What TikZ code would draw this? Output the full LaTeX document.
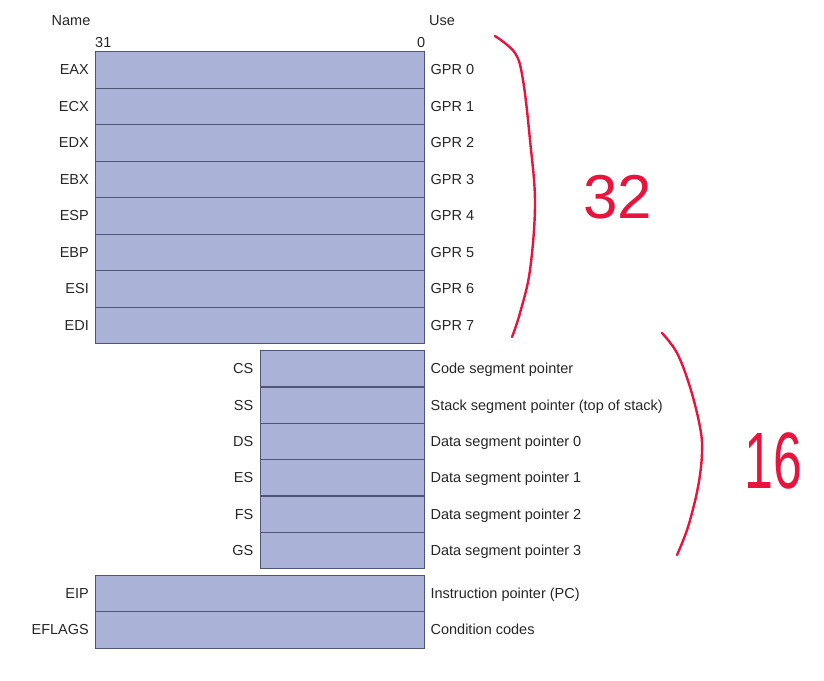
\documentclass[tikz,border=0pt]{standalone}
\usepackage{graphicx}
\usepackage{fontspec}
\setmainfont{Liberation Sans}
\definecolor{regfill}{HTML}{ABB2D7}
\definecolor{regline}{HTML}{4F5577}
\definecolor{txt}{HTML}{262626}
\definecolor{redink}{HTML}{E8143E}
\begin{document}
\begin{tikzpicture}[x=1pt,y=-1pt,
  reg/.style={draw=regline, fill=regfill, line width=1.4pt, inner sep=0pt, anchor=north west},
  widereg/.style={reg, minimum width=329pt, minimum height=36.5pt},
  segreg/.style={reg, minimum width=164.5pt, minimum height=36.3pt},
  lbl/.style={font=\fontsize{14.5}{16}\selectfont, text=txt, inner sep=0pt, text height=10pt, text depth=0pt},
  ink/.style={draw=redink, line width=2.4pt, line cap=round, line join=round},
  handtext/.style={text=redink, inner sep=0pt}
]
\useasboundingbox (0,0) rectangle (824,680);

% general purpose registers
\foreach \n/\u [count=\i from 0] in {EAX/GPR 0, ECX/GPR 1, EDX/GPR 2, EBX/GPR 3, ESP/GPR 4, EBP/GPR 5, ESI/GPR 6, EDI/GPR 7}{
  \node[widereg] (r\i) at (95,{51+\i*36.5}) {};
  \node[lbl, anchor=east] (rn\i) at ([xshift=-6pt]r\i.west) {\n};
  \node[lbl, anchor=west] (ru\i) at ([xshift=5pt]r\i.east) {\u};
}

% segment registers
\foreach \n/\u [count=\i from 0] in {CS/Code segment pointer, SS/Stack segment pointer (top of stack), DS/Data segment pointer 0, ES/Data segment pointer 1, FS/Data segment pointer 2, GS/Data segment pointer 3}{
  \node[segreg] (s\i) at (259.5,{350+\i*36.3}) {};
  \node[lbl, anchor=east] (sn\i) at ([xshift=-6pt]s\i.west) {\n};
  \node[lbl, anchor=west] (su\i) at ([xshift=5pt]s\i.east) {\u};
}

% EIP / EFLAGS
\node[widereg] (eip) at (95,574.5) {};
\node[lbl, anchor=east] (eipn) at ([xshift=-6pt]eip.west) {EIP};
\node[lbl, anchor=west] (eipu) at ([xshift=5pt]eip.east) {Instruction pointer (PC)};
\node[widereg] (efl) at (95,611) {};
\node[lbl, anchor=east] (efln) at ([xshift=-6pt]efl.west) {EFLAGS};
\node[lbl, anchor=west] (eflu) at ([xshift=5pt]efl.east) {Condition codes};

% headers
\node[lbl, anchor=west] (hname) at (51.5,20) {Name};
\node[lbl, anchor=west] (huse) at (429,20) {Use};
\node[lbl, anchor=west] (h31) at ([yshift=9pt]r0.north west) {31};
\node[lbl, anchor=east] (h0) at ([yshift=9pt]r0.north east) {0};

% handwritten annotations
\draw[ink] plot[smooth, tension=0.6] coordinates {(495,36) (515,53) (523,80) (530,140) (535,203) (530,270) (520,313) (512,337)};
\node[handtext, font=\fontsize{62}{62}\selectfont] (n32) at (618,197) {32};
\draw[ink] plot[smooth, tension=0.6] coordinates {(662,333) (677,353) (690,387) (700,427) (702,453) (698,487) (688,527) (677,555)};
\node[handtext, font=\fontsize{80}{80}\selectfont] (n16) at (773,461) {\scalebox{0.65}[1]{16}};
\end{tikzpicture}
\end{document}
